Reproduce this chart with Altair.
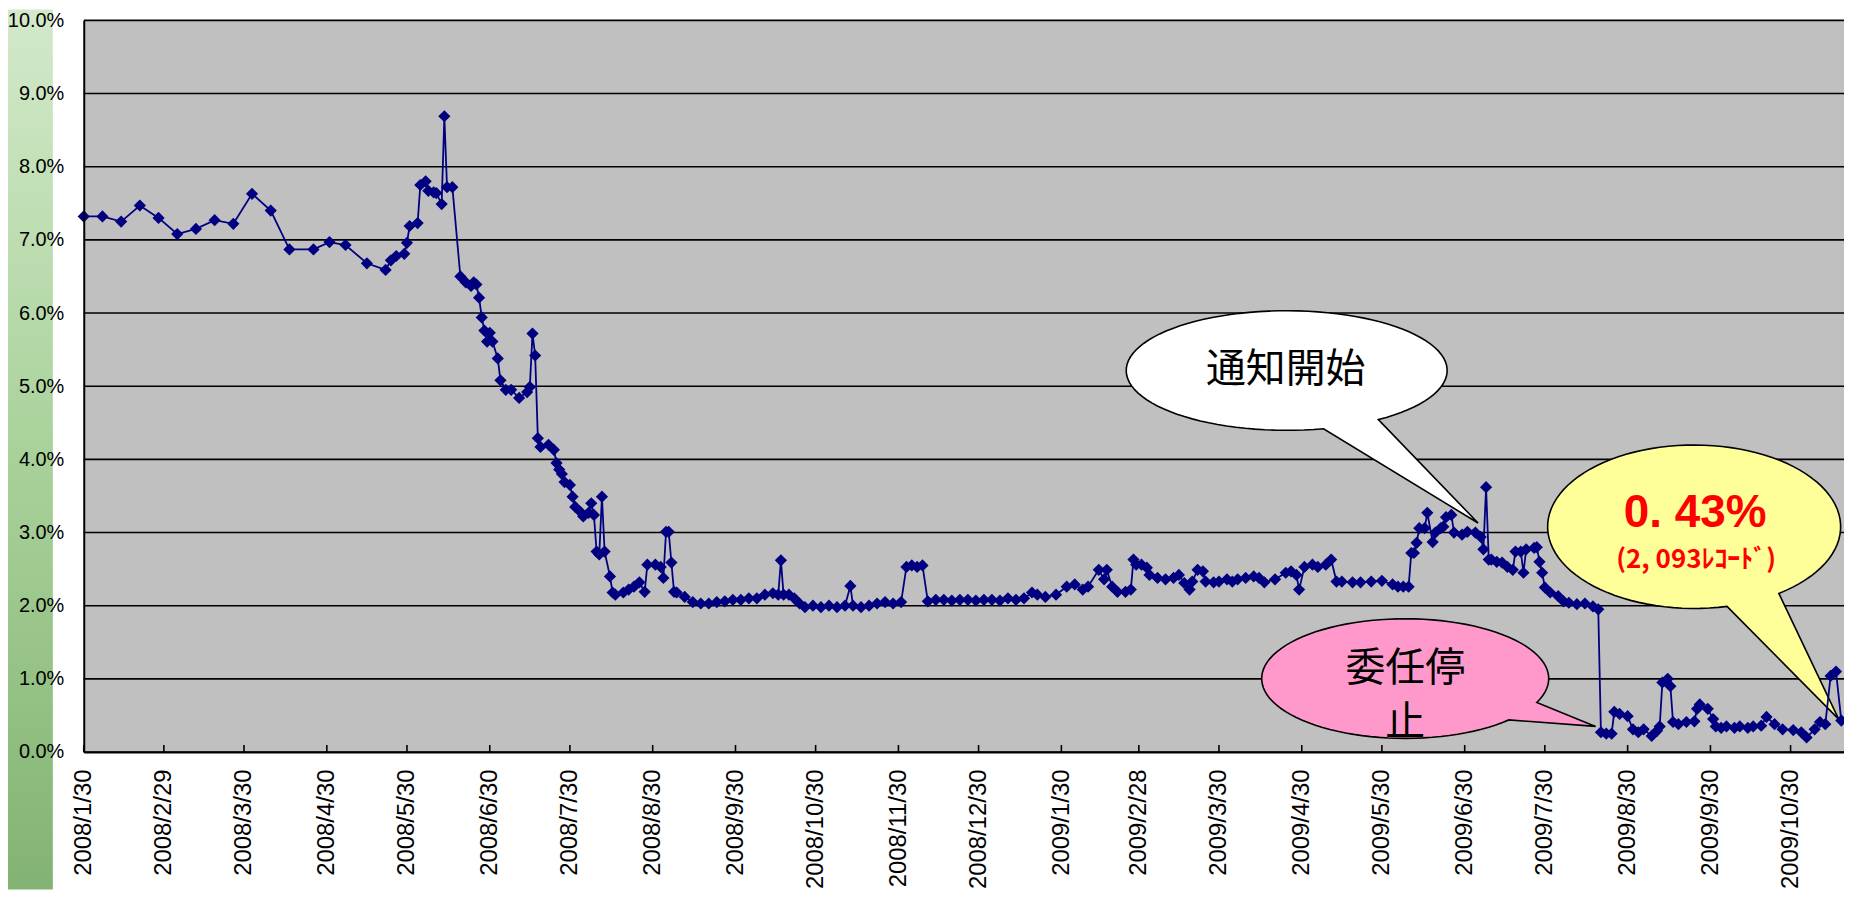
import math
import altair as alt
import pandas as pd

# ---------------- data ----------------
dates = [
    "2008-01-30", "2008-02-06", "2008-02-13", "2008-02-20", "2008-02-27", "2008-03-05",
    "2008-03-12", "2008-03-19", "2008-03-26", "2008-04-02", "2008-04-09", "2008-04-16",
    "2008-04-25", "2008-05-01", "2008-05-07", "2008-05-15", "2008-05-22", "2008-05-24",
    "2008-05-26", "2008-05-29", "2008-05-30", "2008-05-31", "2008-06-03", "2008-06-04",
    "2008-06-06", "2008-06-07", "2008-06-09", "2008-06-10", "2008-06-12", "2008-06-13",
    "2008-06-14", "2008-06-16", "2008-06-19", "2008-06-21", "2008-06-23", "2008-06-24",
    "2008-06-25", "2008-06-26", "2008-06-27", "2008-06-28", "2008-06-29", "2008-06-30",
    "2008-07-01", "2008-07-03", "2008-07-04", "2008-07-06", "2008-07-08", "2008-07-11",
    "2008-07-14", "2008-07-15", "2008-07-16", "2008-07-17", "2008-07-18", "2008-07-19",
    "2008-07-22", "2008-07-24", "2008-07-25", "2008-07-26", "2008-07-27", "2008-07-28",
    "2008-07-30", "2008-07-31", "2008-08-01", "2008-08-03", "2008-08-04", "2008-08-06",
    "2008-08-07", "2008-08-08", "2008-08-09", "2008-08-10", "2008-08-11", "2008-08-12",
    "2008-08-14", "2008-08-15", "2008-08-16", "2008-08-19", "2008-08-21", "2008-08-23",
    "2008-08-25", "2008-08-27", "2008-08-28", "2008-08-31", "2008-09-02", "2008-09-03",
    "2008-09-04", "2008-09-05", "2008-09-06", "2008-09-07", "2008-09-08", "2008-09-11",
    "2008-09-14", "2008-09-17", "2008-09-20", "2008-09-23", "2008-09-26", "2008-09-29",
    "2008-10-02", "2008-10-05", "2008-10-08", "2008-10-11", "2008-10-14", "2008-10-16",
    "2008-10-17", "2008-10-18", "2008-10-20", "2008-10-22", "2008-10-24", "2008-10-26",
    "2008-10-29", "2008-11-01", "2008-11-04", "2008-11-07", "2008-11-10", "2008-11-12",
    "2008-11-13", "2008-11-16", "2008-11-19", "2008-11-22", "2008-11-25", "2008-11-28",
    "2008-12-01", "2008-12-03", "2008-12-05", "2008-12-07", "2008-12-09", "2008-12-11",
    "2008-12-14", "2008-12-17", "2008-12-20", "2008-12-23", "2008-12-26", "2008-12-29",
    "2009-01-01", "2009-01-04", "2009-01-07", "2009-01-10", "2009-01-13", "2009-01-16",
    "2009-01-19", "2009-01-21", "2009-01-24", "2009-01-28", "2009-02-01", "2009-02-04",
    "2009-02-07", "2009-02-09", "2009-02-13", "2009-02-15", "2009-02-16", "2009-02-18",
    "2009-02-20", "2009-02-23", "2009-02-25", "2009-02-26", "2009-02-27", "2009-03-01",
    "2009-03-03", "2009-03-04", "2009-03-07", "2009-03-10", "2009-03-13", "2009-03-15",
    "2009-03-17", "2009-03-19", "2009-03-20", "2009-03-22", "2009-03-24", "2009-03-25",
    "2009-03-28", "2009-03-30", "2009-04-02", "2009-04-04", "2009-04-06", "2009-04-09",
    "2009-04-12", "2009-04-14", "2009-04-16", "2009-04-20", "2009-04-24", "2009-04-26",
    "2009-04-28", "2009-04-29", "2009-05-01", "2009-05-04", "2009-05-06", "2009-05-09",
    "2009-05-11", "2009-05-13", "2009-05-15", "2009-05-19", "2009-05-22", "2009-05-26",
    "2009-05-30", "2009-06-03", "2009-06-05", "2009-06-07", "2009-06-09", "2009-06-10",
    "2009-06-11", "2009-06-12", "2009-06-13", "2009-06-15", "2009-06-16", "2009-06-18",
    "2009-06-19", "2009-06-21", "2009-06-22", "2009-06-23", "2009-06-25", "2009-06-26",
    "2009-06-29", "2009-07-01", "2009-07-04", "2009-07-06", "2009-07-07", "2009-07-08",
    "2009-07-09", "2009-07-10", "2009-07-12", "2009-07-14", "2009-07-16", "2009-07-18",
    "2009-07-19", "2009-07-21", "2009-07-22", "2009-07-23", "2009-07-26", "2009-07-27",
    "2009-07-28", "2009-07-29", "2009-07-30", "2009-08-01", "2009-08-04", "2009-08-06",
    "2009-08-08", "2009-08-11", "2009-08-14", "2009-08-17", "2009-08-19", "2009-08-20",
    "2009-08-22", "2009-08-24", "2009-08-25", "2009-08-27", "2009-08-30", "2009-09-01",
    "2009-09-03", "2009-09-05", "2009-09-08", "2009-09-10", "2009-09-11", "2009-09-12",
    "2009-09-14", "2009-09-15", "2009-09-16", "2009-09-18", "2009-09-21", "2009-09-24",
    "2009-09-25", "2009-09-26", "2009-09-29", "2009-10-01", "2009-10-02", "2009-10-04",
    "2009-10-06", "2009-10-09", "2009-10-11", "2009-10-14", "2009-10-16", "2009-10-19",
    "2009-10-21", "2009-10-24", "2009-10-27", "2009-10-31", "2009-11-03", "2009-11-05",
    "2009-11-08", "2009-11-10", "2009-11-12", "2009-11-14", "2009-11-16", "2009-11-18",
]

rates = [
    7.32, 7.32, 7.25, 7.47, 7.30, 7.08,
    7.15, 7.27, 7.22, 7.63, 7.40, 6.87,
    6.87, 6.97, 6.93, 6.68, 6.59, 6.72,
    6.78, 6.81, 6.96, 7.19, 7.23, 7.75,
    7.80, 7.67, 7.65, 7.64, 7.49, 8.69,
    7.72, 7.72, 6.50, 6.42, 6.37, 6.42,
    6.39, 6.21, 5.94, 5.76, 5.61, 5.73,
    5.61, 5.38, 5.08, 4.95, 4.95, 4.84,
    4.92, 4.99, 5.72, 5.42, 4.29, 4.17,
    4.20, 4.13, 3.95, 3.86, 3.80, 3.69,
    3.65, 3.49, 3.35, 3.28, 3.22, 3.27,
    3.40, 3.24, 2.74, 2.70, 3.49, 2.74,
    2.40, 2.18, 2.15, 2.18, 2.22, 2.26,
    2.32, 2.19, 2.56, 2.56, 2.53, 2.38,
    3.01, 3.01, 2.59, 2.19, 2.18, 2.12,
    2.05, 2.03, 2.03, 2.05, 2.06, 2.08,
    2.08, 2.10, 2.10, 2.15, 2.17, 2.15,
    2.62, 2.15, 2.15, 2.10, 2.03, 1.98,
    2.00, 1.98, 2.00, 1.98, 2.00, 2.27,
    2.00, 1.98, 2.00, 2.03, 2.05, 2.03,
    2.05, 2.53, 2.55, 2.53, 2.55, 2.06,
    2.08, 2.08, 2.07, 2.08, 2.08, 2.07,
    2.08, 2.08, 2.07, 2.10, 2.08, 2.10,
    2.18, 2.15, 2.12, 2.15, 2.26, 2.29,
    2.22, 2.26, 2.49, 2.36, 2.49, 2.26,
    2.19, 2.19, 2.22, 2.63, 2.56, 2.56,
    2.52, 2.42, 2.38, 2.36, 2.38, 2.42,
    2.31, 2.22, 2.33, 2.49, 2.47, 2.33,
    2.32, 2.33, 2.36, 2.33, 2.36, 2.38,
    2.40, 2.38, 2.32, 2.36, 2.45, 2.47,
    2.42, 2.22, 2.53, 2.56, 2.53, 2.56,
    2.63, 2.33, 2.33, 2.32, 2.32, 2.33,
    2.34, 2.29, 2.26, 2.26, 2.26, 2.72,
    2.72, 2.86, 3.06, 3.06, 3.27, 2.87,
    3.00, 3.06, 3.08, 3.21, 3.24, 3.00,
    2.97, 3.01, 3.00, 2.94, 2.77, 3.62,
    2.63, 2.63, 2.60, 2.59, 2.53, 2.49,
    2.74, 2.74, 2.45, 2.77, 2.79, 2.80,
    2.60, 2.45, 2.25, 2.18, 2.13, 2.06,
    2.04, 2.02, 2.03, 1.99, 1.95, 0.27,
    0.25, 0.25, 0.55, 0.52, 0.49, 0.31,
    0.27, 0.31, 0.22, 0.29, 0.35, 0.95,
    1.00, 0.90, 0.41, 0.38, 0.41, 0.42,
    0.59, 0.65, 0.59, 0.45, 0.35, 0.33,
    0.35, 0.33, 0.35, 0.33, 0.35, 0.36,
    0.48, 0.38, 0.31, 0.30, 0.27, 0.20,
    0.31, 0.41, 0.38, 1.04, 1.10, 0.43,
]

tick_dates = [
    (2008, 1, 30), (2008, 2, 29), (2008, 3, 30), (2008, 4, 30), (2008, 5, 30),
    (2008, 6, 30), (2008, 7, 30), (2008, 8, 30), (2008, 9, 30), (2008, 10, 30),
    (2008, 11, 30), (2008, 12, 30), (2009, 1, 30), (2009, 2, 28), (2009, 3, 30),
    (2009, 4, 30), (2009, 5, 30), (2009, 6, 30), (2009, 7, 30), (2009, 8, 30),
    (2009, 9, 30), (2009, 10, 30),
]
y_ticks = [0, 1, 2, 3, 4, 5, 6, 7, 8, 9, 10]

# callouts: text and the data point each one points at
callout_dates = ["2009-07-05", "2009-08-18", "2009-11-17"]
callout_rates = [3.13, 0.35, 0.45]
notice_text = "通知開始"
stop_lines = ["委任停", "止"]
rate_text = "0. 43%"
record_text = "(2, 093ﾚｺｰﾄﾞ)"

# ---------------- layout ----------------
W, H = 1766, 734
PAD = {"left": 76, "top": 11, "right": 0, "bottom": 138}
UNIT = 100.0  # px per path unit of the callout symbols


def bubble_path(cx, cy, rx, ry, bx1, bx2, n=96):
    """Ellipse outline with a tail ending at (0, 0); offsets in px from the tail tip."""
    t1 = math.acos(max(-1.0, min(1.0, (bx1 - cx) / rx)))
    t2 = math.acos(max(-1.0, min(1.0, (bx2 - cx) / rx)))
    pts = []
    for i in range(n + 1):
        t = t2 + (t1 - 2 * math.pi - t2) * i / n
        pts.append((cx + rx * math.cos(t), cy + ry * math.sin(t)))
    return "M" + " L".join(f"{x / UNIT:.4f},{y / UNIT:.4f}" for x, y in pts) + " L0,0 Z"


shapes = [
    bubble_path(-192, -153, 161, 60, -155, -100),
    bubble_path(-191, -48, 144, 60, -87, -59),
    bubble_path(-145, -193, 147, 82, -112, -60),
]
fills = ["#FFFFFF", "#FF99CC", "#FFFF99"]

df = pd.DataFrame({"date": dates, "rate": rates})
ticks_df = pd.DataFrame({"date": [f"{y:04d}-{m:02d}-{d:02d}" for y, m, d in tick_dates]})
grid_df = pd.DataFrame({"rate": y_ticks})
bubbles_df = pd.DataFrame({"date": callout_dates, "rate": callout_rates,
                           "shape": shapes, "fill": fills})


def dt(y, m, d):
    return alt.DateTime(year=y, month=m, date=d, utc=True)


x_enc = alt.X(
    "date:T",
    scale=alt.Scale(type="utc", domain=[dt(2008, 1, 30), dt(2009, 11, 19)]),
    axis=alt.Axis(
        values=[dt(*t) for t in tick_dates], format="%Y/%-m/%-d",
        labelAngle=270, labelAlign="right", labelBaseline="middle",
        labelFont="Liberation Sans", labelFontSize=24, labelColor="black",
        labelPadding=17, ticks=False, grid=False, domainColor="black", domainWidth=2,
        labelOverlap=False, labelFlush=False, labelBound=False, title=None, zindex=1,
    ),
)
y_enc = alt.Y(
    "rate:Q",
    scale=alt.Scale(domain=[0, 10], nice=False, zero=True),
    axis=alt.Axis(
        values=y_ticks, labelExpr="format(datum.value, '.1f') + '%'",
        grid=False, ticks=False, domainColor="black", domainWidth=2,
        labelFont="Liberation Sans", labelFontSize=20, labelColor="black",
        labelPadding=20, title=None, zindex=1,
    ),
)

strip = alt.Chart(alt.Data(values=[{"k": 1}])).mark_rect(
    color=alt.Gradient(
        gradient="linear", x1=0, x2=0, y1=0, y2=1,
        stops=[alt.GradientStop(offset=0, color="#d3e9ca"),
               alt.GradientStop(offset=0.5, color="#a9d29b"),
               alt.GradientStop(offset=1, color="#83b372")],
    )
).encode(x=alt.value(-76), x2=alt.value(-31), y=alt.value(-11), y2=alt.value(H + 138))

gridlines = alt.Chart(grid_df).mark_rule(color="black", strokeWidth=1.6).encode(
    y=y_enc, x=alt.value(0), x2=alt.value(W)
)

bubbles = alt.Chart(bubbles_df).mark_point(
    filled=True, size=(2 * UNIT) ** 2, stroke="black", strokeWidth=1.6, opacity=1
).encode(x=x_enc, y=y_enc, shape=alt.Shape("shape:N", scale=None),
         fill=alt.Fill("fill:N", scale=None))

line = alt.Chart(df).mark_line(color="#000080", strokeWidth=1.8).encode(x=x_enc, y=y_enc)
points = alt.Chart(df).mark_point(
    shape="diamond", size=150, filled=True, color="#000080", opacity=1
).encode(x=x_enc, y=y_enc)

xticks = alt.Chart(ticks_df).mark_rule(color="black", strokeWidth=1.6).encode(
    x=x_enc, y=alt.value(H - 7), y2=alt.value(H)
)


def label(idx, text, dx, dy, size, color="black", weight="normal", font="Noto Sans CJK JP"):
    one = pd.DataFrame({"date": [callout_dates[idx]], "rate": [callout_rates[idx]]})
    return alt.Chart(one).mark_text(
        text=text, dx=dx, dy=dy, fontSize=size, color=color, fontWeight=weight,
        font=font, align="center", baseline="middle",
    ).encode(x=x_enc, y=y_enc)


texts = [
    label(0, notice_text, -193, -153, 40),
    label(1, stop_lines[0], -191, -58, 40),
    label(1, stop_lines[1], -191, -3, 40),
    label(2, rate_text, -144, -207, 46, "#FF0000", "bold", "Liberation Sans"),
    label(2, record_text, -143, -160, 26, "#FF0000", "bold"),
]

chart = alt.layer(strip, gridlines, bubbles, line, points, xticks, *texts).properties(
    width=W, height=H, padding=PAD, autosize=alt.AutoSizeParams(type="none")
).configure_view(fill="#C0C0C0", stroke=None)

chart.save("out.html", embed_options={"renderer": "svg", "actions": False})
